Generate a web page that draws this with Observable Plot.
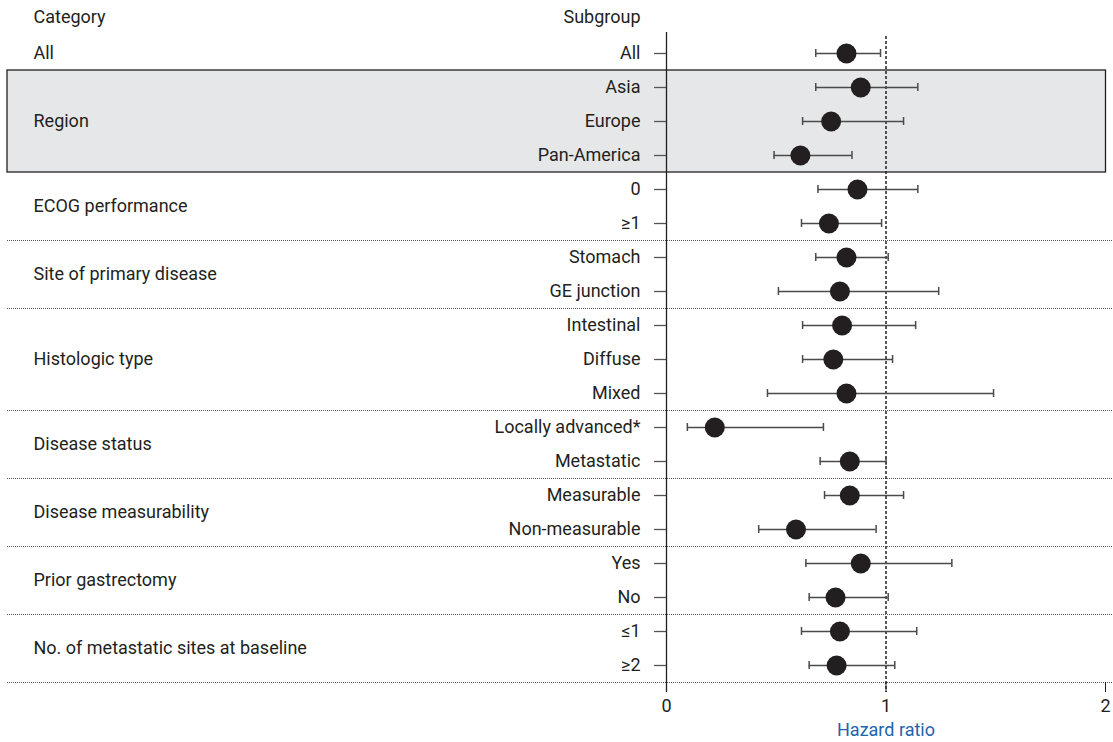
<!DOCTYPE html>
<html>
<head>
<meta charset="utf-8">
<script src="https://cdn.jsdelivr.net/npm/d3@7"></script>
<script src="https://cdn.jsdelivr.net/npm/@observablehq/plot@0.6"></script>
<style>
  html, body { margin: 0; padding: 0; background: #fff; }
  #chart { width: 1113px; height: 742px; }
</style>
</head>
<body>
<div id="chart"></div>
<script>
const subgroups = ["All","Asia","Europe","Pan-America","0","≥1","Stomach","GE junction","Intestinal","Diffuse","Mixed","Locally advanced*","Metastatic","Measurable","Non-measurable","Yes","No","≤1","≥2"];
const categories = ["All","Region","ECOG performance","Site of primary disease","Histologic type","Disease status","Disease measurability","Prior gastrectomy","No. of metastatic sites at baseline"];
const groupSizes = [1,3,2,2,3,2,2,2,2];
const hazardRatio = [0.82,0.885,0.75,0.61,0.87,0.74,0.82,0.79,0.80,0.76,0.82,0.22,0.835,0.835,0.59,0.885,0.77,0.79,0.775];
const ciLower = [0.68,0.68,0.62,0.49,0.69,0.615,0.68,0.51,0.62,0.62,0.46,0.095,0.70,0.72,0.42,0.635,0.65,0.615,0.65];
const ciUpper = [0.975,1.145,1.08,0.845,1.145,0.98,1.01,1.24,1.135,1.03,1.49,0.715,1.0,1.08,0.955,1.30,1.01,1.14,1.04];
const xTicks = [0,1,2];
const shadedCategory = "Region";
const headers = {left: "Category", right: "Subgroup"};
const axisTitle = "Hazard ratio";

const rows = subgroups.map((s, i) => ({i, subgroup: s, hr: hazardRatio[i], lo: ciLower[i], hi: ciUpper[i]}));
let start = 0;
const groups = categories.map((name, k) => {
  const g = {name, k, start, end: start + groupSizes[k] - 1};
  g.mid = (g.start + g.end) / 2;
  start += groupSizes[k];
  return g;
});
const separators = groups.filter(g => g.k >= 2).map(g => g.end + 0.5);
const shaded = groups.filter(g => g.name === shadedCategory);

const ink = "#231f20";
const font = "'Roboto', sans-serif";

const chart = Plot.plot({
  width: 1113,
  height: 742,
  marginLeft: 7,
  marginRight: 0,
  marginTop: 36,
  marginBottom: 60,
  x: {domain: [0, 2], range: [666, 1105]},
  y: {domain: [-0.5, subgroups.length - 0.5], reverse: true, axis: null},
  style: {fontFamily: font, fontSize: "18px", color: ink, background: "#fff"},
  marks: [
    Plot.rect(shaded, {y1: d => d.start - 0.5, y2: d => d.end + 0.5, fill: "#e6e7e8", stroke: ink, strokeWidth: 1.3, insetRight: 7.5}),
    Plot.ruleY(separators, {stroke: "#555", strokeWidth: 1, strokeDasharray: "1,1"}),
    Plot.axisX(xTicks, {tickSize: 10, tickPadding: 7, tickFormat: "d", fontSize: 18, stroke: ink, fill: ink}),
    Plot.ruleX([0], {y1: -0.5, y2: subgroups.length - 0.5, insetTop: -4, insetBottom: -10, stroke: ink, strokeWidth: 1.3}),
    Plot.ruleX([1], {y1: -0.5, y2: subgroups.length - 0.5, insetBottom: -10, stroke: ink, strokeWidth: 1.5, strokeDasharray: "3,2"}),
    Plot.ruleY(rows, {y: "i", x1: 0, x2: 0, insetLeft: -12, stroke: "#555", strokeWidth: 1.3}),
    Plot.ruleY(rows, {y: "i", x1: "lo", x2: "hi", stroke: "#4a4a4a", strokeWidth: 1.5}),
    Plot.ruleX(rows, {x: "lo", y1: "i", y2: "i", insetTop: -4, insetBottom: -4, stroke: "#4a4a4a", strokeWidth: 1.5}),
    Plot.ruleX(rows, {x: "hi", y1: "i", y2: "i", insetTop: -4, insetBottom: -4, stroke: "#4a4a4a", strokeWidth: 1.5}),
    Plot.dot(rows, {x: "hr", y: "i", r: 10, fill: ink, stroke: "none"}),
    Plot.text(rows, {x: 0, y: "i", text: "subgroup", textAnchor: "end", dx: -26, fill: ink}),
    Plot.text(groups, {y: "mid", text: "name", frameAnchor: "left", textAnchor: "start", dx: 26, fill: ink}),
    Plot.text([headers.left], {frameAnchor: "top-left", lineAnchor: "middle", textAnchor: "start", dx: 26, dy: -19, fill: ink}),
    Plot.text([headers.right], {x: 0, frameAnchor: "top", lineAnchor: "middle", textAnchor: "end", dx: -26, dy: -19, fill: ink}),
    Plot.text([axisTitle], {x: xTicks[1], frameAnchor: "bottom", lineAnchor: "middle", dy: 48, fill: "#1f64ad"})
  ]
});
document.getElementById("chart").append(chart);
</script>
</body>
</html>
